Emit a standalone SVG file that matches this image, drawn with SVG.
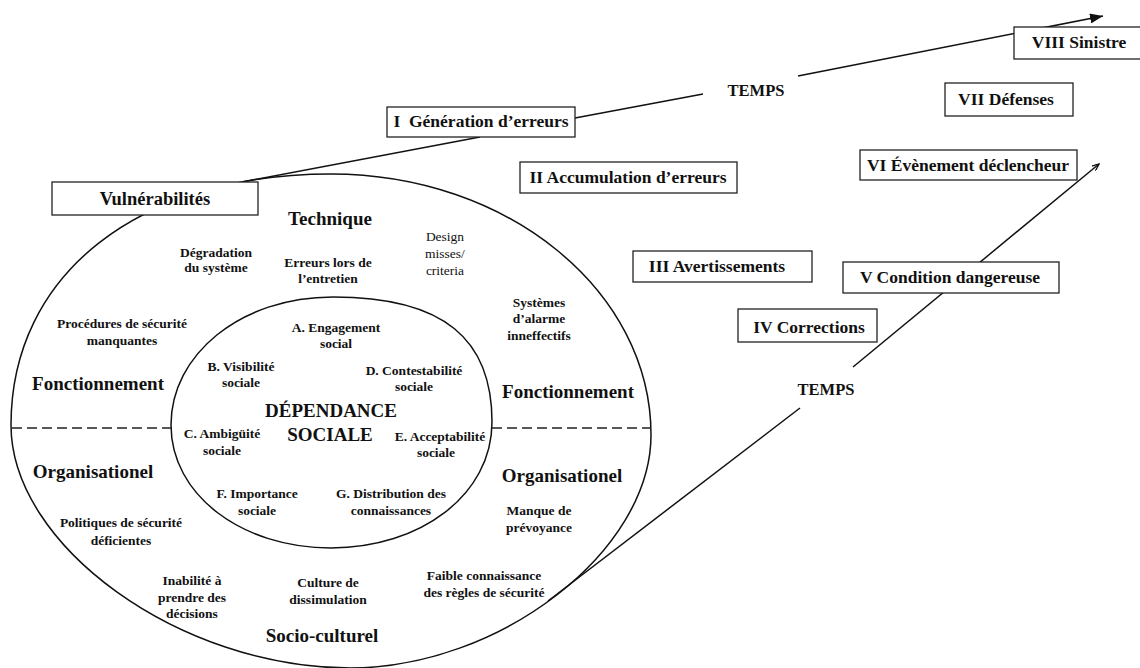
<svg xmlns="http://www.w3.org/2000/svg" width="1140" height="668" viewBox="0 0 1140 668">
<style>
text{font-family:"Liberation Serif","Times New Roman",serif;fill:#111;text-anchor:middle;font-weight:bold}
.s{font-size:13.5px}
.r{font-size:13.5px;font-weight:normal}
.h{font-size:19px}
.b{font-size:17.5px}
.box{fill:#fff;stroke:#222;stroke-width:1.3}
.ln{fill:none;stroke:#111;stroke-width:1.5}
.dash{fill:none;stroke:#222;stroke-width:1.3;stroke-dasharray:10 5}
</style>
<defs>
<marker id="ah" markerUnits="userSpaceOnUse" markerWidth="14" markerHeight="10" refX="13" refY="5" orient="auto">
<path d="M0,0 L13,5 L0,10 z" fill="#111"/>
</marker>
<marker id="ah2" markerUnits="userSpaceOnUse" markerWidth="8" markerHeight="6" refX="7" refY="3" orient="auto">
<path d="M0,0 L7,3 L0,6" fill="none" stroke="#111" stroke-width="1.3"/>
</marker>
</defs>
<rect width="1140" height="668" fill="#fff"/>

<g id="model">
<path class="ln" d="M331,174 C508,174 651,291 651,435 C651,551 500,668 350,668 C180,668 11,546 11,425 C11,274 139,174 331,174 Z"/>
<path class="ln" d="M333,297 C445,297 492,340 492,422 C492,495 420,548 331,548 C242,548 171,495 171,425 C171,355 240,297 333,297 Z"/>
<line class="dash" x1="12" y1="428" x2="171" y2="428"/>
<line class="dash" x1="492" y1="428" x2="651" y2="428"/>
<text class="h" x="330" y="225">Technique</text>
<text class="s" x="216" y="257">Dégradation</text>
<text class="s" x="216" y="272">du système</text>
<text class="s" x="328" y="267">Erreurs lors de</text>
<text class="s" x="328" y="283">l’entretien</text>
<text class="r" x="445" y="241">Design</text>
<text class="r" x="445" y="258">misses/</text>
<text class="r" x="445" y="275">criteria</text>
<text class="s" x="539" y="307">Systèmes</text>
<text class="s" x="539" y="323">d’alarme</text>
<text class="s" x="539" y="340">inneffectifs</text>
<text class="s" x="122" y="328">Procédures de sécurité</text>
<text class="s" x="122" y="345">manquantes</text>
<text class="h" x="98" y="390">Fonctionnement</text>
<text class="h" x="568" y="398">Fonctionnement</text>
<text class="s" x="336" y="332">A. Engagement</text>
<text class="s" x="336" y="348">social</text>
<text class="s" x="241" y="371">B. Visibilité</text>
<text class="s" x="241" y="387">sociale</text>
<text class="s" x="414" y="375">D. Contestabilité</text>
<text class="s" x="414" y="391">sociale</text>
<text class="h" x="331" y="417">DÉPENDANCE</text>
<text class="h" x="330" y="441">SOCIALE</text>
<text class="s" x="222" y="438">C. Ambigüité</text>
<text class="s" x="222" y="455">sociale</text>
<text class="s" x="440" y="441">E. Acceptabilité</text>
<text class="s" x="436" y="457">sociale</text>
<text class="s" x="257" y="498">F. Importance</text>
<text class="s" x="257" y="515">sociale</text>
<text class="s" x="391" y="498">G. Distribution des</text>
<text class="s" x="391" y="515">connaissances</text>
<text class="h" x="93" y="478">Organisationel</text>
<text class="h" x="562" y="482">Organisationel</text>
<text class="s" x="121" y="527">Politiques de sécurité</text>
<text class="s" x="121" y="545">déficientes</text>
<text class="s" x="539" y="515">Manque de</text>
<text class="s" x="539" y="532">prévoyance</text>
<text class="s" x="192" y="585">Inabilité à</text>
<text class="s" x="192" y="602">prendre des</text>
<text class="s" x="192" y="618">décisions</text>
<text class="s" x="328" y="587">Culture de</text>
<text class="s" x="328" y="604">dissimulation</text>
<text class="s" x="484" y="580">Faible connaissance</text>
<text class="s" x="484" y="597">des règles de sécurité</text>
<text class="h" x="322" y="642">Socio-culturel</text>
</g>

<g id="connectors">
<path class="ln" d="M242,182 L480,137"/>
<path class="ln" d="M575,118 L703,94"/>
<path class="ln" d="M798,76 L1103,16" marker-end="url(#ah)"/>
<path class="ln" d="M548,601 L800,408"/>
<path class="ln" d="M853,367 L1099,164" marker-end="url(#ah2)"/>
<text class="b" x="756" y="96" style="font-size:16.5px">TEMPS</text>
<text class="b" x="826" y="395" style="font-size:16.5px">TEMPS</text>
</g>

<g id="n-vuln"><rect class="box" x="52" y="182" width="206" height="33"/><text class="b" x="155" y="205" style="font-size:18.5px">Vulnérabilités</text></g>
<g id="n-1"><rect class="box" x="387" y="107" width="188" height="30"/><text class="b" x="481" y="127" style="white-space:pre">I  Génération d’erreurs</text></g>
<g id="n-2"><rect class="box" x="520" y="162" width="217" height="31"/><text class="b" x="628" y="183">II Accumulation d’erreurs</text></g>
<g id="n-3"><rect class="box" x="633" y="251" width="179" height="31"/><text class="b" x="717" y="272">III Avertissements</text></g>
<g id="n-4"><rect class="box" x="738" y="309" width="139" height="33"/><text class="b" x="809" y="333">IV Corrections</text></g>
<g id="n-5"><rect class="box" x="843" y="262" width="216" height="31"/><text class="b" x="950" y="283">V Condition dangereuse</text></g>
<g id="n-6"><rect class="box" x="860" y="150" width="217" height="30"/><text class="b" x="968" y="171">VI Évènement déclencheur</text></g>
<g id="n-7"><rect class="box" x="945" y="83" width="128" height="33"/><text class="b" x="1006" y="105">VII Défenses</text></g>
<g id="n-8"><rect class="box" x="1014" y="27" width="132" height="32"/><text class="b" x="1079" y="48">VIII Sinistre</text></g>
</svg>
